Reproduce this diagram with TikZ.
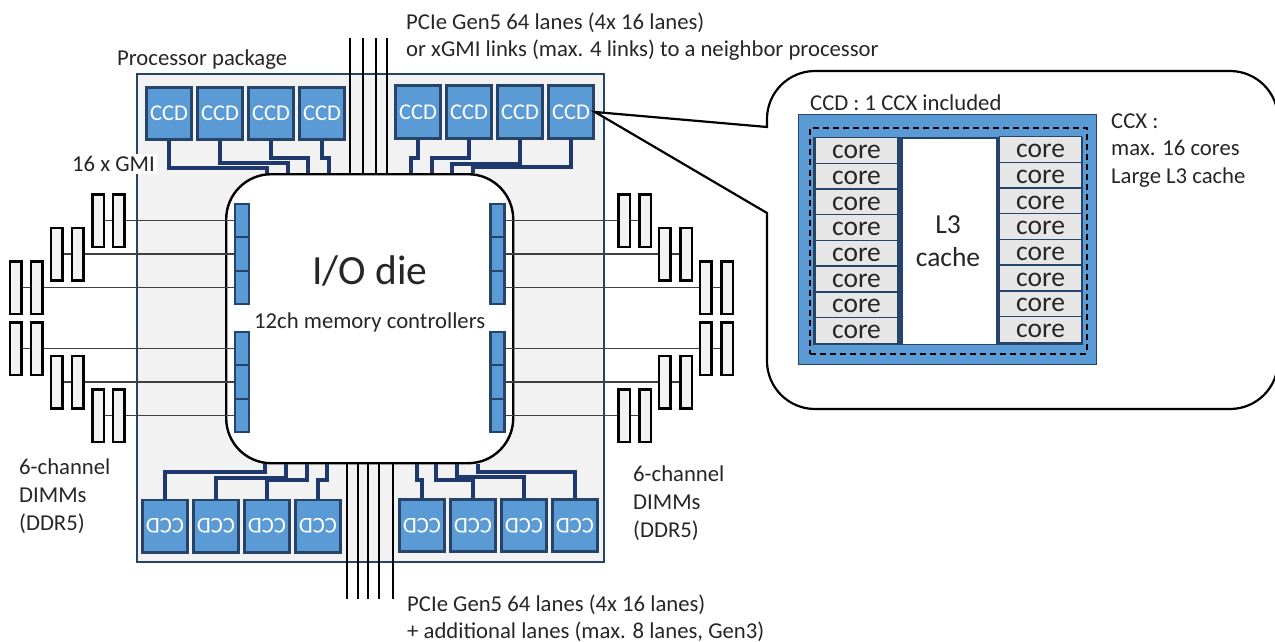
\documentclass[tikz,border=0pt]{standalone}
\usepackage{fontspec}
\setmainfont{Carlito}
\definecolor{CcdBlue}{RGB}{91,155,213}
\definecolor{EdgeBlue}{RGB}{38,68,105}
\definecolor{BusBlue}{RGB}{31,56,110}
\definecolor{PkgGray}{RGB}{242,242,242}
\definecolor{CoreGray}{RGB}{231,230,230}
\definecolor{WireGray}{RGB}{64,64,64}
\definecolor{InkDark}{RGB}{38,38,38}
\usetikzlibrary{positioning}
\newcommand{\flipccd}{\rotatebox{180}{CCD}}

\begin{document}
\begin{tikzpicture}[
        x=1pt, y=-1pt, font=\fontsize{22.7}{22.7}\selectfont, text=InkDark,
        node distance=3pt and 3pt,
        pkg/.style={draw=EdgeBlue, line width=2.2pt, fill=PkgGray, inner sep=0pt, anchor=north west},
        ccd/.style={draw=EdgeBlue, line width=2.6pt, fill=CcdBlue, text=white, inner sep=0pt,
                    minimum width=45.4pt, minimum height=52.4pt, font=\fontsize{22.5}{22.5}\selectfont},
        die/.style={draw=black, line width=2.4pt, fill=white, rounded corners=45pt, inner sep=0pt,
                    anchor=north west, minimum width=287pt, minimum height=289pt},
        mc/.style={draw=EdgeBlue, line width=2.2pt, fill=CcdBlue, inner sep=0pt,
                   minimum width=14pt, minimum height=33.5pt},
        dimm/.style={draw=black, line width=2.5pt, fill=PkgGray, inner sep=0pt,
                     minimum width=11.5pt, minimum height=52.5pt},
        core/.style={draw=EdgeBlue, line width=1.4pt, fill=CoreGray, inner sep=0pt,
                     minimum width=82pt, minimum height=25.7pt, text height=16.5pt, text depth=0pt,
                     font=\fontsize{27.5}{27.5}\selectfont},
        bus/.style={draw=BusBlue, line width=3.2pt},
        lane/.style={draw=black, line width=2.2pt},
        wire/.style={draw=WireGray, line width=1.3pt},
        lbl/.style={anchor=west, inner sep=0pt}
      ]
        \useasboundingbox (0,0) rectangle (1275,642);

        % package and die
        \node[pkg, minimum width=467.5pt, minimum height=488pt] (package) at (135.5,73) {};
        \node[lbl] (pkglabel) at (117,59.5) {Processor package};
        \node[die] (die) at (225,173) {};
        \node[lbl, font=\fontsize{41.5}{41.5}\selectfont] (diename) at (312,271) {I/O die};
        \node[lbl] (mclabel) at (254,322) {12ch memory controllers};
        \node[lbl, fill=white, inner sep=2pt] (gmilabel) at (70,164) {16 x GMI};

        % CCDs, upper side
        \node[ccd] (ccdA1) at (169,113.5) {CCD};
        \node[ccd, right=of ccdA1] (ccdA2) {CCD};
        \node[ccd, right=of ccdA2] (ccdA3) {CCD};
        \node[ccd, right=of ccdA3] (ccdA4) {CCD};
        \node[ccd] (ccdB1) at (418,112) {CCD};
        \node[ccd, right=of ccdB1] (ccdB2) {CCD};
        \node[ccd, right=of ccdB2] (ccdB3) {CCD};
        \node[ccd, right=of ccdB3] (ccdB4) {CCD};

        % CCDs, lower side
        \node[ccd] (ccdC1) at (165,526) {\flipccd};
        \node[ccd, right=of ccdC1] (ccdC2) {\flipccd};
        \node[ccd, right=of ccdC2] (ccdC3) {\flipccd};
        \node[ccd, right=of ccdC3] (ccdC4) {\flipccd};
        \node[ccd] (ccdD1) at (422,525.5) {\flipccd};
        \node[ccd, right=of ccdD1] (ccdD2) {\flipccd};
        \node[ccd, right=of ccdD2] (ccdD3) {\flipccd};
        \node[ccd, right=of ccdD3] (ccdD4) {\flipccd};

        % GMI links
        \draw[bus] (ccdA1.south) |- (267,168) -- (die.north -| 267,0);
        \draw[bus] (ccdA2.south) |- (288,163) -- (die.north -| 288,0);
        \draw[bus] (ccdA3.south) |- (308,158) -- (die.north -| 308,0);
        \draw[bus] (ccdA4.south) |- (329,158) -- (die.north -| 329,0);
        \draw[bus] (ccdB1.south) |- (411,158) -- (die.north -| 411,0);
        \draw[bus] (ccdB2.south) |- (432,158) -- (die.north -| 432,0);
        \draw[bus] (ccdB3.south) |- (452,164) -- (die.north -| 452,0);
        \draw[bus] (ccdB4.south) |- (473,167) -- (die.north -| 473,0);
        \draw[bus] (ccdC1.north) |- (265,472) -- (die.south -| 265,0);
        \draw[bus] (ccdC2.north) |- (286,478) -- (die.south -| 286,0);
        \draw[bus] (ccdC3.north) |- (307,480) -- (die.south -| 307,0);
        \draw[bus] (ccdC4.north) |- (327,480) -- (die.south -| 327,0);
        \draw[bus] (ccdD1.north) |- (417,480) -- (die.south -| 417,0);
        \draw[bus] (ccdD2.north) |- (436,480) -- (die.south -| 436,0);
        \draw[bus] (ccdD3.north) |- (457,477) -- (die.south -| 457,0);
        \draw[bus] (ccdD4.north) |- (478,472) -- (die.south -| 478,0);

        % PCIe lanes
        \foreach \x in {350,363,376,387} {
          \coordinate (laneT\x) at (\x,38);
          \draw[lane] (laneT\x) -- (laneT\x |- die.north);
        }
        \foreach \x in {347,358,368,379,393} {
          \coordinate (laneB\x) at (\x,599);
          \draw[lane] (laneB\x) -- (laneB\x |- die.south);
        }
        \node[lbl, align=left, font=\fontsize{22.7}{27}\selectfont] (pcieT) at (406,36.5)
          {PCIe Gen5 64 lanes (4x 16 lanes)\\or xGMI links (max. 4 links) to a neighbor processor};
        \node[lbl, align=left, font=\fontsize{22.7}{27}\selectfont] (pcieB) at (407,618.5)
          {PCIe Gen5 64 lanes (4x 16 lanes)\\+ additional lanes (max. 8 lanes, Gen3)};

        % memory channels
        \foreach \n/\xa/\xb/\xc/\xd/\y in {1/98/118.5/624/645/220.5, 2/56.5/77.5/664.5/686/254,
            3/15.5/36.5/705.5/727/287.5, 4/15.5/36.5/705.5/727/348.5,
            5/56.5/77.5/664.5/686/382, 6/98/118.5/624/645/415.5} {
          \node[mc] (mcL\n) at (242,\y) {};
          \node[mc] (mcR\n) at (497.5,\y) {};
          \node[dimm] (dimmLa\n) at (\xa,\y) {};
          \node[dimm] (dimmLb\n) at (\xb,\y) {};
          \node[dimm] (dimmRa\n) at (\xc,\y) {};
          \node[dimm] (dimmRb\n) at (\xd,\y) {};
          \draw[wire] (dimmLa\n) -- (dimmLb\n);
          \draw[wire] (dimmLb\n) -- (mcL\n);
          \draw[wire] (mcR\n) -- (dimmRa\n);
          \draw[wire] (dimmRa\n) -- (dimmRb\n);
        }
        \node[lbl, align=left, font=\fontsize{22.7}{28}\selectfont] (dimmsL) at (19,496) {6-channel\\DIMMs\\(DDR5)};
        \node[lbl, align=left, font=\fontsize{22.7}{28}\selectfont] (dimmsR) at (633,503) {6-channel\\DIMMs\\(DDR5)};

        % callout with the CCD inside
        \draw[line width=2.2pt, fill=white] (ccdB4.east) -- (767,127) -- (767,122)
          [rounded corners=48pt] -- (767,71) -- (1278,71) -- (1278,409) -- (767,409) -- (767,300)
          [sharp corners] -- (767,213) -- cycle;
        \node[pkg, line width=1.2pt, fill=CcdBlue, minimum width=298pt, minimum height=250pt] (bigccd) at (798,114) {};
        \node[lbl] (ccdnote) at (810,103) {CCD : 1 CCX included};
        \node[pkg, draw=black, line width=2pt, fill=none, dash pattern=on 6pt off 4pt,
              minimum width=276.5pt, minimum height=225.5pt] (ccx) at (809,127) {};
        \node[pkg, line width=1.5pt, fill=EdgeBlue, minimum width=268.5pt, minimum height=206.5pt] (ccxin) at (813,137) {};
        \node[pkg, fill=white, draw=none, minimum width=93pt, minimum height=205pt] (lthree) at (902,138) {};
        \node[lbl, align=center, anchor=center, font=\fontsize{27.5}{33}\selectfont] (lthreetext) at (948,241) {L3\\cache};
        \foreach \n/\y in {1/150.5, 2/176.2, 3/201.9, 4/227.6, 5/253.3, 6/279, 7/304.7, 8/330.4} {
          \node[core] (coreL\n) at (856.5,\y) {core};
          \node[core] (coreR\n) at (1040.5,\y-1) {core};
        }
        \node[lbl, align=left, font=\fontsize{22.7}{27.5}\selectfont] (ccxnote) at (1111,150.5) {CCX :\\max. 16 cores\\Large L3 cache};
      \end{tikzpicture}
\end{document}
